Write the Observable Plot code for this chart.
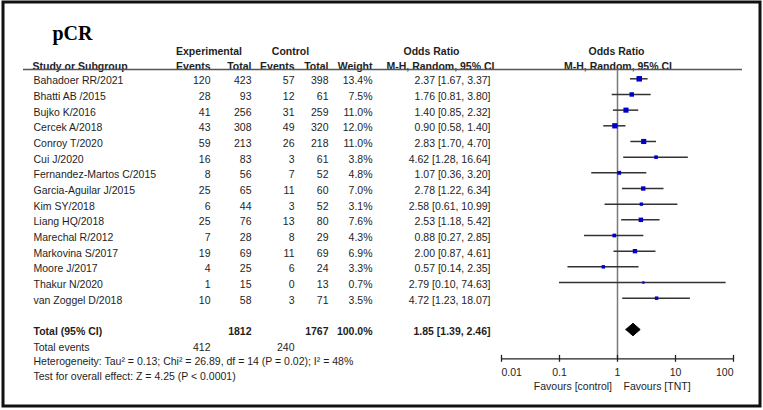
<!DOCTYPE html>
<html><head><meta charset="utf-8">
<script src="https://cdn.jsdelivr.net/npm/d3@7"></script>
<script src="https://cdn.jsdelivr.net/npm/@observablehq/plot@0.6"></script>
<style>
html,body{margin:0;padding:0;background:#fff;}
#chart{width:763px;height:410px;}
</style></head><body><div id="chart"></div>
<script>
// ---------- data ----------
const title = "pCR";
const studies = ["Bahadoer RR/2021","Bhatti AB /2015","Bujko K/2016","Cercek A/2018","Conroy T/2020","Cui J/2020","Fernandez-Martos C/2015","Garcia-Aguilar J/2015","Kim SY/2018","Liang HQ/2018","Marechal R/2012","Markovina S/2017","Moore J/2017","Thakur N/2020","van Zoggel D/2018"];
const expEvents = [120,28,41,43,59,16,8,25,6,25,7,19,4,1,10];
const expTotal = [423,93,256,308,213,83,56,65,44,76,28,69,25,15,58];
const ctrlEvents = [57,12,31,49,26,3,7,11,3,13,8,11,6,0,3];
const ctrlTotal = [398,61,259,320,218,61,52,60,52,80,29,69,24,13,71];
const weights = [13.4,7.5,11.0,12.0,11.0,3.8,4.8,7.0,3.1,7.6,4.3,6.9,3.3,0.7,3.5];
const orEst = [2.37,1.76,1.40,0.90,2.83,4.62,1.07,2.78,2.58,2.53,0.88,2.00,0.57,2.79,4.72];
const orLow = [1.67,0.81,0.85,0.58,1.70,1.28,0.36,1.22,0.61,1.18,0.27,0.87,0.14,0.10,1.23];
const orHigh = [3.37,3.80,2.32,1.40,4.70,16.64,3.20,6.34,10.99,5.42,2.85,4.61,2.35,74.63,18.07];
const pooledEst = 1.85, pooledLow = 1.39, pooledHigh = 2.46;
const totalExp = 1812, totalCtrl = 1767, totalWeight = "100.0%";
const totalExpEvents = 412, totalCtrlEvents = 240;
const heterogeneityText = "Heterogeneity: Tau\u00B2 = 0.13; Chi\u00B2 = 26.89, df = 14 (P = 0.02); I\u00B2 = 48%";
const overallText = "Test for overall effect: Z = 4.25 (P < 0.0001)";
const xTicks = [0.01, 0.1, 1, 10, 100];
const favoursLeft = "Favours [control]", favoursRight = "Favours [TNT]";

// ---------- layout (rows in row units) ----------
const ROW0 = 78.3, ROWH = 15.67;
const R_H1 = -1.88, R_H2 = -0.93, R_LINE = -0.6;
const R_TOTAL = 16, R_TEV = 17, R_HET = 17.95, R_TEST = 18.9;
const R_AXIS = 17.87;
const TXT_DY = 2;

const rows = studies.map((s, i) => ({
  i, name: s, ee: expEvents[i], et: expTotal[i], ce: ctrlEvents[i], ct: ctrlTotal[i],
  w: weights[i], est: orEst[i], low: orLow[i], high: orHigh[i],
  ci: `${orEst[i].toFixed(2)} [${orLow[i].toFixed(2)}, ${orHigh[i].toFixed(2)}]`
}));
const fmtW = w => w.toFixed(1) + "%";

const cols = {name: 33, ee: 210, et: 251, ce: 294, ct: 328, w: 372, ci: 490};
const T = "#1e1e1e";

function colText(data, field, x, anchor, extra = {}) {
  return Plot.text(data, {y: "i", text: field, frameAnchor: "left", dx: x, dy: TXT_DY,
    textAnchor: anchor, fill: T, ...extra});
}
function lineText(txt, row, x, anchor, extra = {}) {
  return Plot.text([txt], {y: () => row, text: d => d, frameAnchor: "left", dx: x, dy: TXT_DY,
    textAnchor: anchor, fill: T, ...extra});
}

const bold = {fontWeight: "bold"};
const diamond = [
  {x: pooledLow, y: R_TOTAL}, {x: pooledEst, y: R_TOTAL - 0.4},
  {x: pooledHigh, y: R_TOTAL}, {x: pooledEst, y: R_TOTAL + 0.4}, {x: pooledLow, y: R_TOTAL}
];

const chart = Plot.plot({
  width: 763, height: 410, margin: 0,
  x: {type: "log", domain: [0.01, 100], range: [501, 733], axis: null},
  y: {domain: [0, 1], range: [ROW0, ROW0 + ROWH], axis: null},
  r: {type: "sqrt", domain: [0, 13.4], range: [0.8, 3.1]},
  style: {fontFamily: "'Liberation Sans', Arial, sans-serif", fontSize: "10.5px", background: "#fff", overflow: "visible"},
  marks: [
    Plot.frame({stroke: "#111", strokeWidth: 3, insetLeft: 2.5, insetTop: 1.5, insetRight: 3.5, insetBottom: 4.5}),
    Plot.text([title], {frameAnchor: "top-left", dx: 52, dy: 25, text: d => d, fontFamily: "'Liberation Serif', 'Times New Roman', serif", fontSize: 20, fontWeight: "bold", fill: "#000", textAnchor: "start"}),
    // headers
    lineText("Experimental", R_H1, 208.5, "middle", bold),
    lineText("Control", R_H1, 290, "middle", bold),
    lineText("Odds Ratio", R_H1, 431, "middle", bold),
    lineText("Odds Ratio", R_H1, 616, "middle", bold),
    lineText("Study or Subgroup", R_H2, 32, "start", bold),
    lineText("Events", R_H2, cols.ee, "end", bold),
    lineText("Total", R_H2, cols.et, "end", bold),
    lineText("Events", R_H2, cols.ce, "end", bold),
    lineText("Total", R_H2, cols.ct, "end", bold),
    lineText("Weight", R_H2, cols.w, "end", bold),
    lineText("M-H, Random, 95% CI", R_H2, 440, "middle", bold),
    lineText("M-H, Random, 95% CI", R_H2, 617.5, "middle", bold),
    Plot.ruleY([R_LINE], {y: d => d, insetLeft: 23, insetRight: 21, stroke: "#555", strokeWidth: 1.5}),
    // study rows
    colText(rows, "name", cols.name, "start"),
    colText(rows, "ee", cols.ee, "end"),
    colText(rows, "et", cols.et, "end"),
    colText(rows, "ce", cols.ce, "end"),
    colText(rows, "ct", cols.ct, "end"),
    colText(rows, d => fmtW(d.w), cols.w, "end"),
    colText(rows, "ci", cols.ci, "end"),
    // totals
    lineText("Total (95% CI)", R_TOTAL, cols.name, "start", bold),
    lineText(String(totalExp), R_TOTAL, cols.et, "end", bold),
    lineText(String(totalCtrl), R_TOTAL, cols.ct, "end", bold),
    lineText(totalWeight, R_TOTAL, cols.w, "end", bold),
    lineText(`${pooledEst.toFixed(2)} [${pooledLow.toFixed(2)}, ${pooledHigh.toFixed(2)}]`, R_TOTAL, cols.ci, "end", bold),
    lineText("Total events", R_TEV, cols.name, "start"),
    lineText(String(totalExpEvents), R_TEV, cols.ee, "end"),
    lineText(String(totalCtrlEvents), R_TEV, cols.ce, "end"),
    lineText(heterogeneityText, R_HET, cols.name, "start"),
    lineText(overallText, R_TEST, cols.name, "start"),
    // forest
    Plot.ruleX([1], {x: d => d, y1: () => R_LINE, y2: () => R_AXIS, stroke: "#7a7a7a", strokeWidth: 1.5}),
    Plot.ruleY(rows, {y: "i", x1: "low", x2: "high", stroke: "#333", strokeWidth: 1.5}),
    Plot.dot(rows, {x: "est", y: "i", r: "w", symbol: "square", fill: "#0000cc", stroke: "none"}),
    Plot.line(diamond, {x: "x", y: "y", fill: "#000", stroke: "#000", strokeWidth: 1}),
    // axis
    Plot.ruleY([R_AXIS], {y: d => d, x1: () => xTicks[0], x2: () => xTicks[xTicks.length - 1], stroke: "#222", strokeWidth: 1.3}),
    Plot.ruleX(xTicks, {x: d => d, y1: () => R_AXIS - 0.22, y2: () => R_AXIS + 0.22, stroke: "#222", strokeWidth: 1.3}),
    Plot.text(xTicks.slice(0, 1), {x: d => d, y: () => R_AXIS, dy: 14, text: d => String(d), textAnchor: "start", fill: T}),
    Plot.text(xTicks.slice(1, -1), {x: d => d, y: () => R_AXIS, dy: 14, text: d => String(d), textAnchor: "middle", fill: T}),
    Plot.text(xTicks.slice(-1), {x: d => d, y: () => R_AXIS, dy: 14, text: d => String(d), textAnchor: "end", fill: T}),
    Plot.text([favoursLeft], {x: () => 1, y: () => R_AXIS, dx: -5.5, dy: 27.5, text: d => d, textAnchor: "end", fill: T}),
    Plot.text([favoursRight], {x: () => 1, y: () => R_AXIS, dx: 6, dy: 27.5, text: d => d, textAnchor: "start", fill: T})
  ]
});
document.getElementById("chart").appendChild(chart);
</script>
</body></html>
